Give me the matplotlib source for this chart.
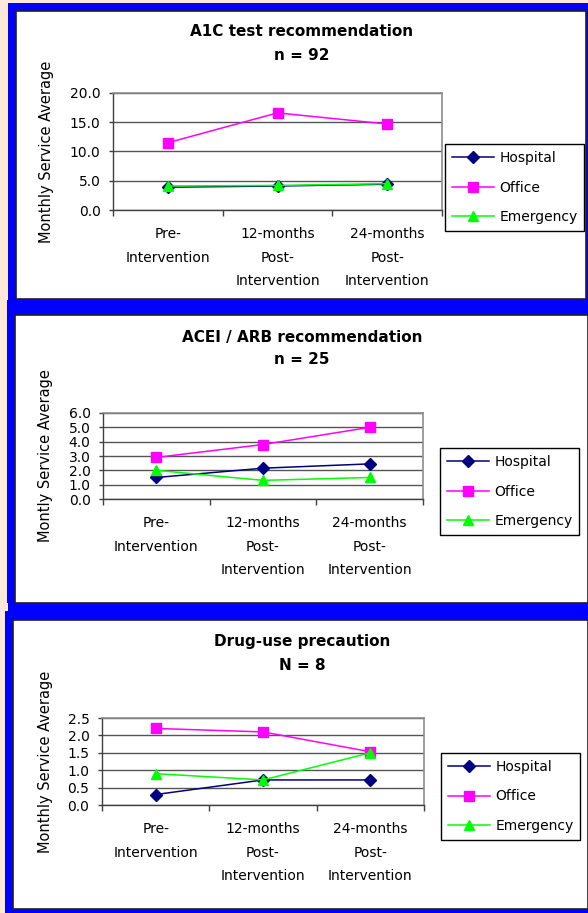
import matplotlib
matplotlib.use("Agg")
import matplotlib.pyplot as plt
from matplotlib.patches import Rectangle

W, H = 588, 913

periods = ["Pre-\nIntervention", "12-months\nPost-\nIntervention", "24-months\nPost-\nIntervention"]
series_names = ["Hospital", "Office", "Emergency"]

# A1C test recommendation, n = 92
a1c_hospital = [3.9, 4.1, 4.4]
a1c_office = [11.5, 16.6, 14.7]
a1c_emergency = [4.1, 4.2, 4.5]

# ACEI / ARB recommendation, n = 25
acei_hospital = [1.5, 2.15, 2.45]
acei_office = [2.9, 3.8, 5.0]
acei_emergency = [2.0, 1.3, 1.5]

# Drug-use precaution, N = 8
drug_hospital = [0.3, 0.72, 0.72]
drug_office = [2.2, 2.1, 1.53]
drug_emergency = [0.9, 0.72, 1.5]

colors = ["#000080", "#FF00FF", "#00FF00"]
markers = ["D", "s", "^"]
msizes = [6, 6.5, 7.5]

panels = [
    dict(title="A1C test recommendation", sub="n = 92", ylabel="Monthly Service Average",
         data=[a1c_hospital, a1c_office, a1c_emergency], ymax=20.0, ystep=5.0,
         box=(16, 11, 586, 299), ax=(113, 93, 442, 210), ty=(32, 55), ylx=47,
         leg=(445, 143, 586, 232)),
    dict(title="ACEI / ARB recommendation", sub="n = 25", ylabel="Montly Service Average",
         data=[acei_hospital, acei_office, acei_emergency], ymax=6.0, ystep=1.0,
         box=(15, 315, 588, 603), ax=(103, 413, 423, 499), ty=(337, 360), ylx=46,
         leg=(440, 447, 584, 536)),
    dict(title="Drug-use precaution", sub="N = 8", ylabel="Monthly Service Average",
         data=[drug_hospital, drug_office, drug_emergency], ymax=2.5, ystep=0.5,
         box=(13, 620, 588, 909), ax=(102, 718, 424, 805), ty=(641, 665), ylx=46,
         leg=(441, 752, 584, 841)),
]

fig = plt.figure(figsize=(W / 100, H / 100), dpi=100)
fig.patch.set_facecolor("#FDE9D9")

# page frame drawn in pixel units
bg = fig.add_axes([0, 0, 1, 1])
bg.set_xlim(0, W)
bg.set_ylim(H, 0)
bg.axis("off")
bg.add_patch(Rectangle((8, 3), W - 8, H - 3, facecolor="#0000FF", edgecolor="none"))
bg.add_patch(Rectangle((7, 300), 1, 303, facecolor="#0000FF", edgecolor="none"))
bg.add_patch(Rectangle((5, 611), 3, H - 611, facecolor="#0000FF", edgecolor="none"))


def fx(px):
    return px / W


def fy(py):
    return 1 - py / H


for p in panels:
    x0, y0, x1, y1 = p["box"]
    bg.add_patch(Rectangle((x0, y0), x1 - x0, y1 - y0, facecolor="white",
                           edgecolor="#202020", linewidth=1.2))

    l, t, r, b = p["ax"]
    ax = fig.add_axes([fx(l), fy(b), fx(r) - fx(l), fy(t) - fy(b)])
    x = range(len(periods))
    for vals, c, m, ms, name in zip(p["data"], colors, markers, msizes, series_names):
        ax.plot(x, vals, color=c, marker=m, markersize=ms, markerfacecolor=c,
                markeredgecolor=c, linewidth=1.1, label=name, clip_on=False, zorder=3)

    ax.set_xlim(-0.5, 2.5)
    ax.set_ylim(0, p["ymax"])
    n = int(round(p["ymax"] / p["ystep"]))
    ax.set_yticks([i * p["ystep"] for i in range(n + 1)])
    ax.set_yticklabels([f"{i * p['ystep']:.1f}" for i in range(n + 1)])
    ax.tick_params(axis="y", direction="out", length=3, width=1, pad=6, labelsize=10,
                   color="#404040")

    ax.set_xticks([-0.5, 0.5, 1.5, 2.5])
    ax.set_xticklabels([])
    ax.set_xticks([0, 1, 2], minor=True)
    ax.set_xticklabels(periods, minor=True)
    ax.tick_params(axis="x", which="major", direction="out", length=4, width=1,
                   color="#404040")
    ax.tick_params(axis="x", which="minor", length=0, pad=12, labelsize=10)
    for lab in ax.get_xticklabels(minor=True):
        lab.set_linespacing(1.9)

    ax.yaxis.grid(True, color="#555555", linewidth=1.0)
    ax.set_axisbelow(True)
    for side in ("top", "right"):
        ax.spines[side].set_color("#8C8C8C")
        ax.spines[side].set_linewidth(1.2)
    for side in ("left", "bottom"):
        ax.spines[side].set_color("#404040")
        ax.spines[side].set_linewidth(1.0)

    ax.set_ylabel(p["ylabel"], fontsize=10.5, va="center")
    ax.yaxis.set_label_coords((p["ylx"] - l) / (r - l), 0.5)

    fig.text(fx(302), fy(p["ty"][0]), p["title"], ha="center", va="center",
             fontsize=11, fontweight="bold")
    fig.text(fx(302), fy(p["ty"][1]), p["sub"], ha="center", va="center",
             fontsize=11, fontweight="bold")

    lx0, ly0, lx1, ly1 = p["leg"]
    leg = ax.legend(loc="center left", bbox_to_anchor=(fx(lx0), fy((ly0 + ly1) / 2)),
                    bbox_transform=fig.transFigure, fontsize=10, frameon=True,
                    fancybox=False, framealpha=1, edgecolor="black", borderaxespad=0,
                    handlelength=3.0, handletextpad=0.4, labelspacing=1.1,
                    borderpad=0.5)
    leg.get_frame().set_linewidth(1.0)

fig.savefig("out.png", dpi=100, facecolor=fig.get_facecolor())
